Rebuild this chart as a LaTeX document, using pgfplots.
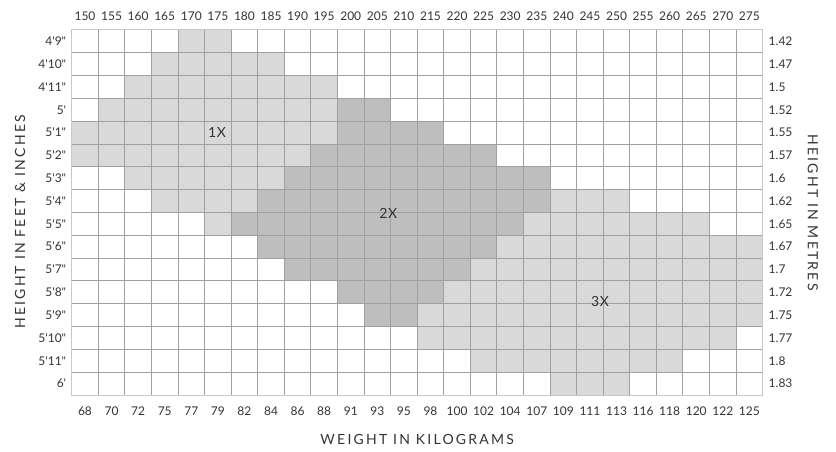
\documentclass[border=0pt]{standalone}
\usepackage{fontspec}
\setmainfont{Lato}[Ligatures=TeXOff]
\usepackage{pgfplots}
\pgfplotsset{compat=1.18}
\definecolor{lightcell}{RGB}{217,217,217}
\definecolor{darkcell}{RGB}{191,190,191}
\definecolor{gridc}{RGB}{160,160,160}
\definecolor{borderc}{RGB}{200,200,200}
\definecolor{txt}{RGB}{51,51,51}
\begin{document}
\begin{tikzpicture}
\useasboundingbox (-71.7bp,-57bp) rectangle (764.3bp,395bp);
\begin{axis}[
  at={(0,0)}, anchor=south west,
  scale only axis, width=691bp, height=365bp,
  xmin=0, xmax=26, ymin=0, ymax=16,
  axis on top, clip=false,
  xtick={0.5,1.5,...,25.5},
  ytick={0.5,1.5,...,15.5},
  xticklabels={68,70,72,75,77,79,82,84,86,88,91,93,95,98,100,102,104,107,109,111,113,116,118,120,122,125},
  yticklabels={6',5'11",5'10",5'9",5'8",5'7",5'6",5'5",5'4",5'3",5'2",5'1",5',4'11",4'10",4'9"},
  minor xtick={0,1,...,26},
  minor ytick={0,1,...,16},
  xminorgrids=true, yminorgrids=true,
  minor grid style={gridc, line width=1bp},
  major tick length=0pt, minor tick length=0pt,
  axis line style={borderc, line width=1bp},
  tick label style={font=\fontsize{12bp}{14bp}\selectfont, text=txt},
  xticklabel style={yshift=-8bp},
  yticklabel style={xshift=-2bp},
]
% 1X region (light)
\addplot[fill=lightcell, draw=none] coordinates {
 (4,16)(6,16)(6,15)(8,15)(8,14)(10,14)(10,11)(9,11)(9,10)(8,10)(8,9)(7,9)(7,8)(6,8)(6,7)(5,7)(5,8)(3,8)(3,9)(2,9)(2,10)(0,10)(0,12)(1,12)(1,13)(2,13)(2,14)(3,14)(3,15)(4,15)
} -- cycle;
% 2X region (dark)
\addplot[fill=darkcell, draw=none] coordinates {
 (10,13)(12,13)(12,12)(14,12)(14,11)(16,11)(16,10)(18,10)(18,8)(17,8)(17,7)(16,7)(16,6)(15,6)(15,5)(14,5)(14,4)(13,4)(13,3)(11,3)(11,4)(10,4)(10,5)(8,5)(8,6)(7,6)(7,7)(6,7)(6,8)(7,8)(7,9)(8,9)(8,10)(9,10)(9,11)(10,11)
} -- cycle;
% 3X region (light)
\addplot[fill=lightcell, draw=none] coordinates {
 (18,9)(21,9)(21,8)(24,8)(24,7)(26,7)(26,3)(25,3)(25,2)(23,2)(23,1)(21,1)(21,0)(18,0)(18,1)(15,1)(15,2)(13,2)(13,4)(14,4)(14,5)(15,5)(15,6)(16,6)(16,7)(17,7)(17,8)(18,8)
} -- cycle;
\node[font=\fontsize{14bp}{16bp}\selectfont\addfontfeature{LetterSpace=16}, text=txt] at ([yshift=-44bp]rel axis cs:0.5,0) {WEIGHT IN KILOGRAMS};
\node[font=\fontsize{14bp}{16bp}\selectfont\addfontfeature{LetterSpace=16}, text=txt, rotate=90] at ([xshift=-51.7bp]rel axis cs:0,0.474) {HEIGHT IN FEET \& INCHES};
\node[font=\fontsize{14bp}{16bp}\selectfont\addfontfeature{LetterSpace=16}, text=txt, rotate=-90] at ([xshift=50.3bp]rel axis cs:1,0.5) {HEIGHT IN METRES};
\end{axis}
\begin{axis}[
  at={(0,0)}, anchor=south west,
  scale only axis, width=691bp, height=365bp,
  xmin=0, xmax=26, ymin=0, ymax=16,
  axis line style={draw=none}, clip=false,
  xtick={0.5,1.5,...,25.5},
  ytick={0.5,1.5,...,15.5},
  xticklabel pos=upper, yticklabel pos=upper,
  xticklabels={150,155,160,165,170,175,180,185,190,195,200,205,210,215,220,225,230,235,240,245,250,255,260,265,270,275},
  yticklabels={1.83,1.8,1.77,1.75,1.72,1.7,1.67,1.65,1.62,1.6,1.57,1.55,1.52,1.5,1.47,1.42},
  major tick length=0pt,
  tick label style={font=\fontsize{12bp}{14bp}\selectfont, text=txt},
  xticklabel style={yshift=6bp},
  yticklabel style={xshift=2.5bp},
]
\addplot[draw=none] coordinates {(0,0)(26,16)};
\node[font=\fontsize{14bp}{16bp}\selectfont\addfontfeature{LetterSpace=5}, text=txt] at (axis cs:5.47,11.51) {1X};
\node[font=\fontsize{14bp}{16bp}\selectfont\addfontfeature{LetterSpace=5}, text=txt] at (axis cs:11.91,7.94) {2X};
\node[font=\fontsize{14bp}{16bp}\selectfont\addfontfeature{LetterSpace=5}, text=txt] at (axis cs:19.88,4.12) {3X};
\end{axis}
\end{tikzpicture}
\end{document}
